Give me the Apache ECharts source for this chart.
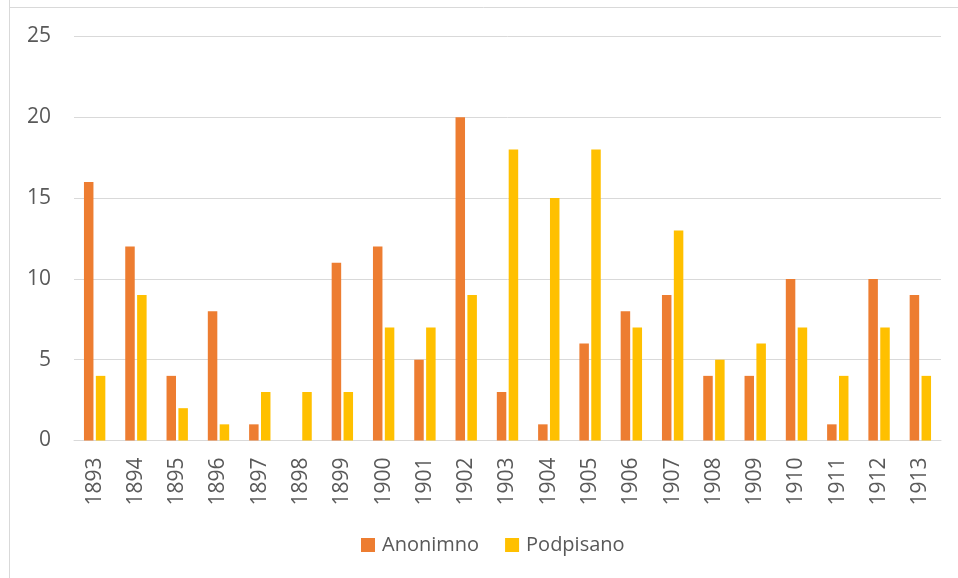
<!DOCTYPE html>
<html><head><meta charset="utf-8">
<script src="https://cdn.jsdelivr.net/npm/echarts@6/dist/echarts.min.js"></script>
<style>html,body{margin:0;padding:0;background:#fff}#c{width:958px;height:578px}</style>
</head><body><div id="c"></div>
<script>
const years = ['1893','1894','1895','1896','1897','1898','1899','1900','1901','1902','1903','1904','1905','1906','1907','1908','1909','1910','1911','1912','1913'];
const anonimno = [16,12,4,8,1,0,11,12,5,20,3,1,6,8,9,4,4,10,1,10,9];
const podpisano = [4,9,2,1,3,3,3,7,7,9,18,15,18,7,13,5,6,7,4,7,4];
const yTicks = [0,5,10,15,20,25];

const chart = echarts.init(document.getElementById('c'), null, {renderer:'canvas'});
const font = 'Open Sans';
chart.setOption({
  animation:false,
  backgroundColor:'#fff',
  textStyle:{fontFamily:font},
  graphic:[
    {type:'line', shape:{x1:9.5,y1:0,x2:9.5,y2:578}, style:{stroke:'#D9D9D9',lineWidth:1}, silent:true},
    {type:'line', shape:{x1:9,y1:7.5,x2:958,y2:7.5}, style:{stroke:'#D9D9D9',lineWidth:1}, silent:true}
  ],
  grid:{left:74, right:17, top:36.5, bottom:137.5, containLabel:false},
  legend:{
    bottom:18, left:356,
    itemWidth:14, itemHeight:14, itemGap:26,
    icon:'rect',
    textStyle:{color:'#595959', fontSize:20, fontFamily:font, padding:[0,0,0,2]},
    data:['Anonimno','Podpisano']
  },
  xAxis:{
    type:'category', data:years,
    axisLine:{show:true, lineStyle:{color:'#D9D9D9', width:1}},
    axisTick:{show:false},
    axisLabel:{rotate:90, color:'#595959', fontSize:21, fontFamily:font, margin:17, interval:0}
  },
  yAxis:{
    type:'value', min:yTicks[0], max:yTicks[yTicks.length-1], interval:5,
    axisLine:{show:false}, axisTick:{show:false},
    splitLine:{lineStyle:{color:'#D9D9D9', width:1}},
    axisLabel:{color:'#595959', fontSize:21, fontFamily:font, margin:23}
  },
  series:[
    {name:'Anonimno', type:'bar', data:anonimno, barWidth:9.5, barGap:'25%', itemStyle:{color:'#ED7D31'}},
    {name:'Podpisano', type:'bar', data:podpisano, barWidth:9.5, barGap:'25%', itemStyle:{color:'#FFC000'}}
  ]
});
</script></body></html>
